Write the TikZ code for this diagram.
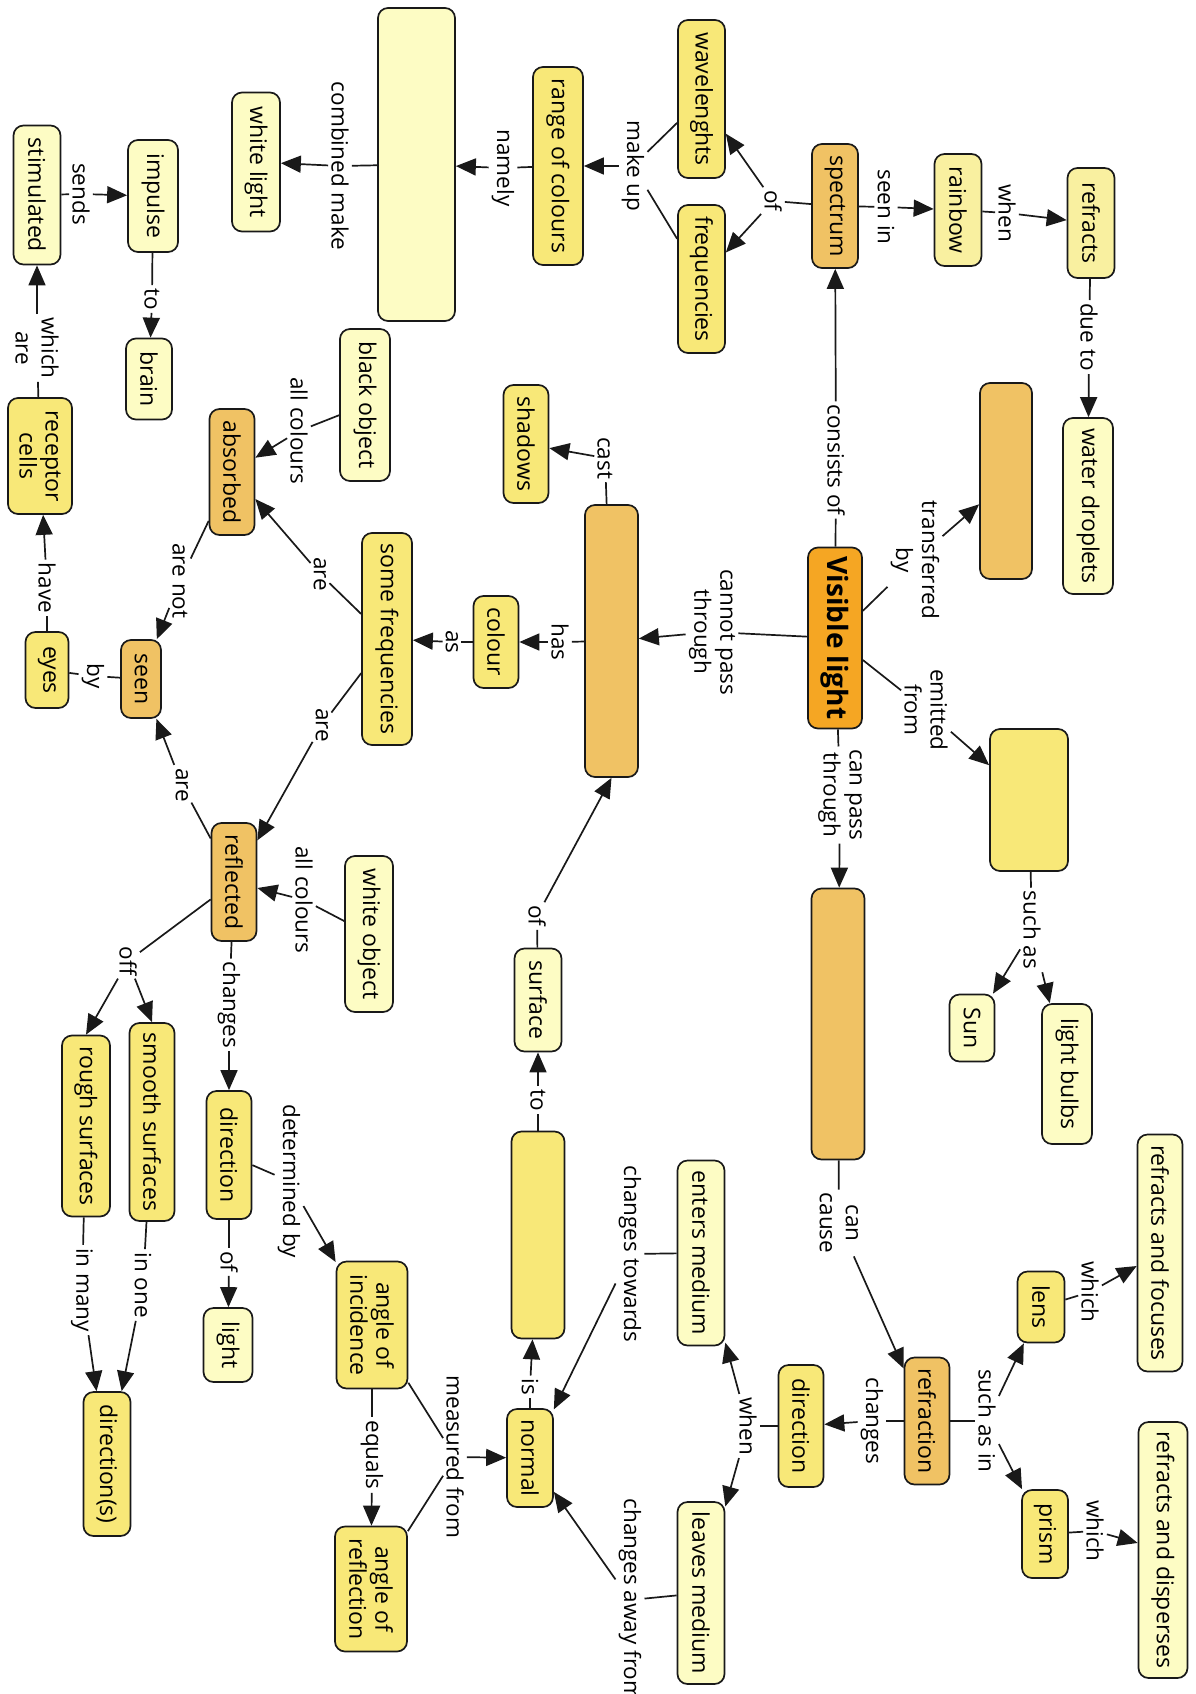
\documentclass[tikz,border=0pt]{standalone}
\usepackage{fontspec}
\setmainfont{Open Sans}
\usetikzlibrary{arrows.meta}
\definecolor{paleyellow}{HTML}{FDFCC4}
\definecolor{softyellow}{HTML}{F9F0A0}
\definecolor{midyellow}{HTML}{F8E878}
\definecolor{lightorange}{HTML}{F0C264}
\definecolor{deeporange}{HTML}{F5A623}
\tikzset{
  concept/.style={draw=black!90, line width=1.7pt, rounded corners=10pt, rotate=-90,
    inner sep=2pt, align=center, font=\fontsize{23}{26}\selectfont},
  pale/.style={concept, fill=paleyellow},
  soft/.style={concept, fill=softyellow},
  yel/.style={concept, fill=midyellow},
  org/.style={concept, fill=lightorange},
  sz/.style 2 args={minimum width=#1, minimum height=#2},
  link/.style={rotate=-90, inner sep=3pt, align=center, font=\fontsize{22.5}{26}\selectfont},
  conn/.style={line width=1.7pt, draw=black!90},
  arr/.style={conn, -{Triangle[length=20pt,width=17pt]}},
}

\begin{document}
\begin{tikzpicture}[x=1pt,y=-1pt]
  \useasboundingbox (0,0) rectangle (1196,1694);
  % concepts
  \node[concept, fill=deeporange, sz={181}{54}, font=\fontsize{28}{30}\selectfont\bfseries] (vis) at (835,638) {Visible light};
  \node[org, sz={196}{52}] (transfer) at (1006,481) {};
  \node[pale, sz={176}{50}] (droplets) at (1088,506) {water droplets};
  \node[soft, sz={110}{47}] (refracts) at (1091,223) {refracts};
  \node[soft, sz={112}{47}] (rainbow) at (958,210) {rainbow};
  \node[org, sz={124}{46}] (spectrum) at (835,206) {spectrum};
  \node[yel, sz={158}{47}] (waves) at (701.5,99) {wavelenghts};
  \node[yel, sz={148}{47}] (freqs) at (701.5,279) {frequencies};
  \node[yel, sz={198}{50}] (range) at (558,166) {range of colours};
  \node[pale, sz={313}{77}] (combo) at (416.5,164.5) {};
  \node[pale, sz={139}{48}] (whitelight) at (256,162) {white light};
  \node[pale, sz={112}{50}] (impulse) at (153,196) {impulse};
  \node[pale, sz={139}{47}] (stim) at (37,195) {stimulated};
  \node[pale, sz={81}{46}] (brain) at (149,379) {brain};
  \node[yel, sz={116}{64}] (receptor) at (40,456) {receptor\\cells};
  \node[pale, sz={152}{50}] (blackobj) at (365,405) {black object};
  \node[org, sz={126}{45}] (absorbed) at (232,472) {absorbed};
  \node[yel, sz={212}{50}] (somefreq) at (387,639) {some frequencies};
  \node[yel, sz={92}{45}] (colour) at (496,642) {colour};
  \node[yel, sz={118}{45}] (shadows) at (526,444) {shadows};
  \node[org, sz={272}{53}] (opaque) at (611.5,641) {};
  \node[org, sz={78}{40}] (seen) at (141,679) {seen};
  \node[yel, sz={76}{43}] (eyes) at (47,670) {eyes};
  \node[yel, sz={142}{78}] (emitbox) at (1029,800) {};
  \node[pale, sz={67}{45}] (sun) at (972,1028) {Sun};
  \node[pale, sz={140}{50}] (bulbs) at (1067,1074) {light bulbs};
  \node[org, sz={271}{53}] (canpass) at (838,1024) {};
  \node[org, sz={118}{45}] (reflected) at (234,882) {reflected};
  \node[pale, sz={156}{48}] (whiteobj) at (369,934) {white object};
  \node[pale, sz={103}{47}] (surface) at (538,1000) {surface};
  \node[yel, sz={198}{45}] (smooth) at (152,1122) {smooth surfaces};
  \node[yel, sz={181}{48}] (rough) at (86,1126) {rough surfaces};
  \node[yel, sz={128}{45}] (dirleft) at (229,1155) {direction};
  \node[pale, sz={74}{49}] (light) at (228,1345) {light};
  \node[yel, sz={144}{47}] (dirs) at (107,1464) {direction(s)};
  \node[yel, sz={127}{71}] (incidence) at (372,1325) {angle of\\incidence};
  \node[yel, sz={125}{72}] (reflection) at (371,1589) {angle of\\reflection};
  \node[yel, sz={207}{53}] (isbox) at (538,1235) {};
  \node[yel, sz={98}{46}] (normal) at (530,1458) {normal};
  \node[pale, sz={185}{47}] (enters) at (701,1253) {enters medium};
  \node[pale, sz={182}{47}] (leaves) at (701,1593) {leaves medium};
  \node[yel, sz={122}{45}] (dirright) at (801,1426) {direction};
  \node[org, sz={127}{45}] (refraction) at (927,1421) {refraction};
  \node[yel, sz={71}{47}] (lens) at (1041,1307) {lens};
  \node[yel, sz={88}{46}] (prism) at (1045,1534) {prism};
  \node[pale, sz={237}{45}] (focuses) at (1160,1253) {refracts and focuses};
  \node[pale, sz={256}{49}] (disperses) at (1163,1550) {refracts and disperses};
  % linking phrases
  \node[link] (l-consists) at (836,460) {consists of};
  \node[link] (l-transfer) at (915,560) {transferred\\by};
  \node[link] (l-emitted) at (926,710) {emitted\\from};
  \node[link] (l-seenin) at (886,207) {seen in};
  \node[link] (l-when) at (1007,213) {when};
  \node[link] (l-dueto) at (1089,337) {due to};
  \node[link] (l-of) at (773,201) {of};
  \node[link] (l-makeup) at (633,166) {make up};
  \node[link] (l-namely) at (503,168) {namely};
  \node[link] (l-combined) at (340,166) {combined make};
  \node[link] (l-sends) at (81,194) {sends};
  \node[link] (l-to) at (152,299) {to};
  \node[link] (l-whichare) at (37,348) {which\\are};
  \node[link] (l-have) at (47,588) {have};
  \node[link] (l-by) at (93,676) {by};
  \node[link] (l-allblack) at (299,431) {all colours};
  \node[link] (l-arenot) at (180,581) {are not};
  \node[link] (l-are1) at (320,574) {are};
  \node[link] (l-are2) at (322,725) {are};
  \node[link] (l-are3) at (182,785) {are};
  \node[link] (l-allwhite) at (304,900) {all colours};
  \node[link] (l-changes) at (229,1005) {changes};
  \node[link] (l-off) at (128,961) {off};
  \node[link] (l-determined) at (289,1181) {determined by};
  \node[link] (l-oflight) at (229,1262) {of};
  \node[link] (l-inone) at (143,1285) {in one};
  \node[link] (l-inmany) at (82,1290) {in many};
  \node[link] (l-equals) at (372,1455) {equals};
  \node[link] (l-measured) at (455,1457) {measured from};
  \node[link] (l-is) at (530,1387) {is};
  \node[link] (l-tosurface) at (538,1100) {to};
  \node[link] (l-ofsurface) at (537,916) {of};
  \node[link] (l-has) at (560,642) {has};
  \node[link] (l-as) at (452,642) {as};
  \node[link] (l-cast) at (605,458) {cast};
  \node[link] (l-cannot) at (712,632) {cannot pass\\through};
  \node[link] (l-canpass) at (840,795) {can pass\\through};
  \node[link] (l-suchas) at (1032,930) {such as};
  \node[link] (l-cancause) at (839,1223) {can\\cause};
  \node[link] (l-suchasin) at (987,1421) {such as in};
  \node[link] (l-whichlens) at (1090,1292) {which};
  \node[link] (l-whichprism) at (1095,1531) {which};
  \node[link] (l-changesdir) at (872,1421) {changes};
  \node[link] (l-whendir) at (748,1426) {when};
  \node[link] (l-towards) at (630,1254) {changes towards};
  \node[link] (l-away) at (630,1600) {changes away from};
  % connectors
  \draw[conn] (vis) -- (l-consists);
  \draw[arr] (l-consists) -- (spectrum);
  \draw[conn] (vis) -- (l-transfer);
  \draw[arr] (l-transfer) -- (transfer);
  \draw[conn] (vis) -- (l-emitted);
  \draw[arr] (l-emitted) -- (emitbox);
  \draw[conn] (vis) -- (l-cannot);
  \draw[arr] (l-cannot) -- (opaque);
  \draw[conn] (vis) -- (l-canpass);
  \draw[arr] (l-canpass) -- (canpass);
  \draw[conn] (spectrum) -- (l-seenin);
  \draw[arr] (l-seenin) -- (rainbow);
  \draw[conn] (rainbow) -- (l-when);
  \draw[arr] (l-when) -- (refracts);
  \draw[conn] (refracts) -- (l-dueto);
  \draw[arr] (l-dueto) -- (droplets);
  \draw[conn] (spectrum) -- (l-of);
  \draw[arr] (l-of) -- (waves);
  \draw[arr] (l-of) -- (freqs);
  \draw[conn] (waves) -- (l-makeup);
  \draw[conn] (freqs) -- (l-makeup);
  \draw[arr] (l-makeup) -- (range);
  \draw[conn] (range) -- (l-namely);
  \draw[arr] (l-namely) -- (combo);
  \draw[conn] (combo) -- (l-combined);
  \draw[arr] (l-combined) -- (whitelight);
  \draw[conn] (stim) -- (l-sends);
  \draw[arr] (l-sends) -- (impulse);
  \draw[conn] (impulse) -- (l-to);
  \draw[arr] (l-to) -- (brain);
  \draw[conn] (receptor) -- (l-whichare);
  \draw[arr] (l-whichare) -- (stim);
  \draw[conn] (eyes) -- (l-have);
  \draw[arr] (l-have) -- (receptor);
  \draw[conn] (seen) -- (l-by);
  \draw[conn] (l-by) -- (eyes);
  \draw[conn] (blackobj) -- (l-allblack);
  \draw[arr] (l-allblack) -- (absorbed);
  \draw[conn] (somefreq) -- (l-are1);
  \draw[arr] (l-are1) -- (absorbed);
  \draw[conn] (somefreq) -- (l-are2);
  \draw[arr] (l-are2) -- (reflected);
  \draw[conn] (absorbed) -- (l-arenot);
  \draw[arr] (l-arenot) -- (seen);
  \draw[conn] (reflected) -- (l-are3);
  \draw[arr] (l-are3) -- (seen);
  \draw[conn] (whiteobj) -- (l-allwhite);
  \draw[arr] (l-allwhite) -- (reflected);
  \draw[conn] (reflected) -- (l-changes);
  \draw[arr] (l-changes) -- (dirleft);
  \draw[conn] (reflected) -- (l-off);
  \draw[arr] (l-off) -- (smooth.west);
  \draw[arr] (l-off) -- (rough.west);
  \draw[conn] (dirleft) -- (l-determined);
  \draw[arr] (l-determined) -- (incidence);
  \draw[conn] (dirleft) -- (l-oflight);
  \draw[arr] (l-oflight) -- (light);
  \draw[conn] (smooth) -- (l-inone);
  \draw[arr] (l-inone) -- (dirs);
  \draw[conn] (rough) -- (l-inmany);
  \draw[arr] (l-inmany) -- (dirs);
  \draw[conn] (incidence) -- (l-equals);
  \draw[arr] (l-equals) -- (reflection);
  \draw[conn] (incidence) -- (l-measured);
  \draw[conn] (reflection) -- (l-measured);
  \draw[arr] (l-measured) -- (normal);
  \draw[conn] (normal) -- (l-is);
  \draw[arr] (l-is) -- (isbox);
  \draw[conn] (isbox) -- (l-tosurface);
  \draw[arr] (l-tosurface) -- (surface);
  \draw[conn] (surface) -- (l-ofsurface);
  \draw[arr] (l-ofsurface) -- (opaque.east);
  \draw[conn] (opaque) -- (l-has);
  \draw[arr] (l-has) -- (colour);
  \draw[conn] (colour) -- (l-as);
  \draw[arr] (l-as) -- (somefreq);
  \draw[conn] (opaque) -- (l-cast);
  \draw[arr] (l-cast) -- (shadows);
  \draw[conn] (emitbox) -- (l-suchas);
  \draw[arr] (l-suchas) -- (sun);
  \draw[arr] (l-suchas) -- (bulbs);
  \draw[conn] (canpass) -- (l-cancause);
  \draw[arr] (l-cancause) -- (refraction);
  \draw[conn] (refraction) -- (l-suchasin);
  \draw[arr] (l-suchasin) -- (lens);
  \draw[arr] (l-suchasin) -- (prism);
  \draw[conn] (lens) -- (l-whichlens);
  \draw[arr] (l-whichlens) -- (focuses);
  \draw[conn] (prism) -- (l-whichprism);
  \draw[arr] (l-whichprism) -- (disperses);
  \draw[conn] (refraction) -- (l-changesdir);
  \draw[arr] (l-changesdir) -- (dirright);
  \draw[conn] (dirright) -- (l-whendir);
  \draw[arr] (l-whendir) -- (enters);
  \draw[arr] (l-whendir) -- (leaves);
  \draw[conn] (enters) -- (l-towards);
  \draw[arr] (l-towards) -- (normal);
  \draw[conn] (leaves) -- (l-away);
  \draw[arr] (l-away) -- (normal);
\end{tikzpicture}
\end{document}
